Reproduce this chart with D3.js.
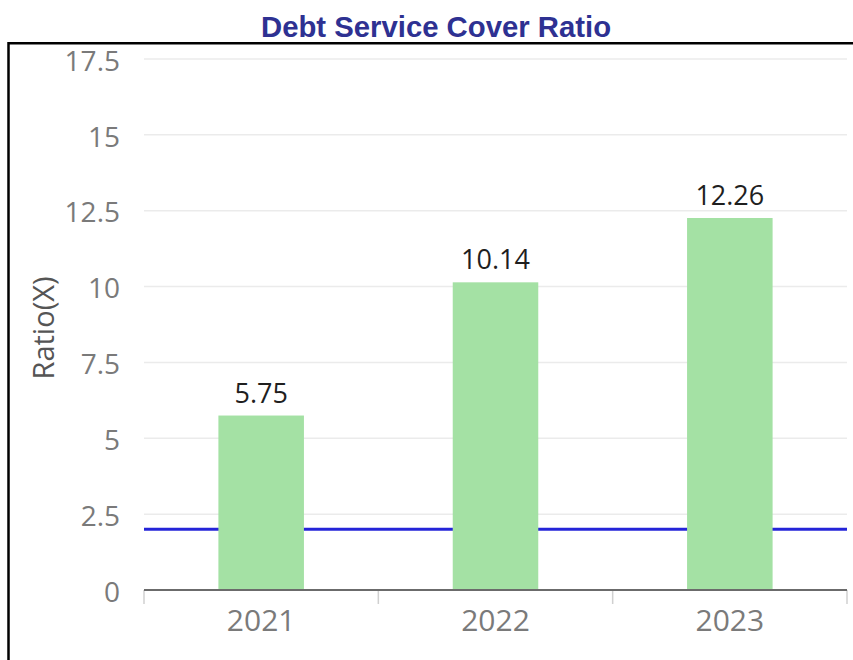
<!DOCTYPE html>
<html>
<head>
<meta charset="utf-8">
<script src="https://cdn.jsdelivr.net/npm/d3@7"></script>
<style>
  html, body { margin: 0; padding: 0; background: #fff; }
  svg { display: block; }
</style>
</head>
<body>
<svg id="chart" width="853" height="660"></svg>
<script>
// Debt service cover ratio by year
const years = ["2021", "2022", "2023"];
const ratios = [5.75, 10.14, 12.26];
const yTicks = [0, 2.5, 5, 7.5, 10, 12.5, 15, 17.5];
const threshold = 2.0;
const titleText = "Debt Service Cover Ratio";
const yTitle = "Ratio(X)";

const svg = d3.select("#chart");
const W = 853, H = 660;
const plot = { left: 144, right: 847, top: 59, bottom: 590 };

// frame around the chart area
svg.append("path")
  .attr("d", `M8.5,${H + 5} L8.5,43.3 L${W + 5},43.3`)
  .attr("fill", "none")
  .attr("stroke", "#000")
  .attr("stroke-width", 2.5);

svg.append("text")
  .attr("x", 436).attr("y", 36.5)
  .attr("text-anchor", "middle")
  .attr("font-family", "Liberation Sans, Arial, sans-serif")
  .attr("font-weight", "bold")
  .attr("font-size", 29.3)
  .attr("fill", "#2e3192")
  .text(titleText);

const x = d3.scaleBand().domain(years).range([plot.left, plot.right]).paddingInner(0).paddingOuter(0);
const y = d3.scaleLinear().domain([0, 17.5]).range([plot.bottom, plot.top]);

// horizontal gridlines
svg.append("g").selectAll("line").data(yTicks.filter(d => d > 0)).join("line")
  .attr("x1", plot.left).attr("x2", plot.right)
  .attr("y1", d => y(d)).attr("y2", d => y(d))
  .attr("stroke", "#ebebeb").attr("stroke-width", 1.5);

// y tick labels
const yAxis = d3.axisLeft(y).tickValues(yTicks).tickSize(0).tickPadding(0)
  .tickFormat(d => d3.format("")(d));
const gy = svg.append("g").attr("transform", `translate(120,0)`).call(yAxis);
gy.select(".domain").remove();
gy.selectAll("text")
  .attr("font-family", "Open Sans, sans-serif")
  .attr("font-size", 28)
  .attr("fill", "#7a7a7a")
  .attr("dy", "0.4em");

// threshold line (minimum covenant level)
svg.append("line")
  .attr("x1", plot.left).attr("x2", plot.right)
  .attr("y1", y(threshold)).attr("y2", y(threshold))
  .attr("stroke", "#2424d8").attr("stroke-width", 3);

// bars
const barW = x.bandwidth() * 0.365;
svg.append("g").selectAll("rect").data(years).join("rect")
  .attr("x", (d) => x(d) + x.bandwidth() / 2 - barW / 2)
  .attr("width", barW)
  .attr("y", (d, i) => y(ratios[i]))
  .attr("height", (d, i) => y(0) - y(ratios[i]))
  .attr("fill", "#a4e1a4");

// value labels
svg.append("g").selectAll("text").data(years).join("text")
  .attr("x", d => x(d) + x.bandwidth() / 2)
  .attr("y", (d, i) => y(ratios[i]) - 13)
  .attr("text-anchor", "middle")
  .attr("font-family", "Open Sans, sans-serif")
  .attr("font-size", 27)
  .attr("fill", "#1f1f1f")
  .text((d, i) => ratios[i].toFixed(2));

// x axis with category boundary ticks
const gx = svg.append("g").attr("transform", `translate(0,${plot.bottom})`)
  .call(d3.axisBottom(x).tickSize(0).tickPadding(0));
gx.select(".domain").remove();
gx.selectAll("text")
  .attr("font-family", "Open Sans, sans-serif")
  .attr("font-size", 30)
  .attr("fill", "#7a7a7a")
  .attr("dy", "1.35em");

const bounds = years.map(d => x(d)).concat([plot.right]);
svg.append("g").selectAll("line").data(bounds).join("line")
  .attr("x1", d => d).attr("x2", d => d)
  .attr("y1", plot.bottom).attr("y2", plot.bottom + 14)
  .attr("stroke", "#d0d0d0").attr("stroke-width", 1.5);

svg.append("line")
  .attr("x1", plot.left).attr("x2", plot.right)
  .attr("y1", plot.bottom).attr("y2", plot.bottom)
  .attr("stroke", "#6b6b6b").attr("stroke-width", 2);

// y axis title
svg.append("text")
  .attr("transform", `translate(54,328) rotate(-90)`)
  .attr("text-anchor", "middle")
  .attr("font-family", "Open Sans, sans-serif")
  .attr("font-size", 29)
  .attr("fill", "#555")
  .text(yTitle);
</script>
</body>
</html>
